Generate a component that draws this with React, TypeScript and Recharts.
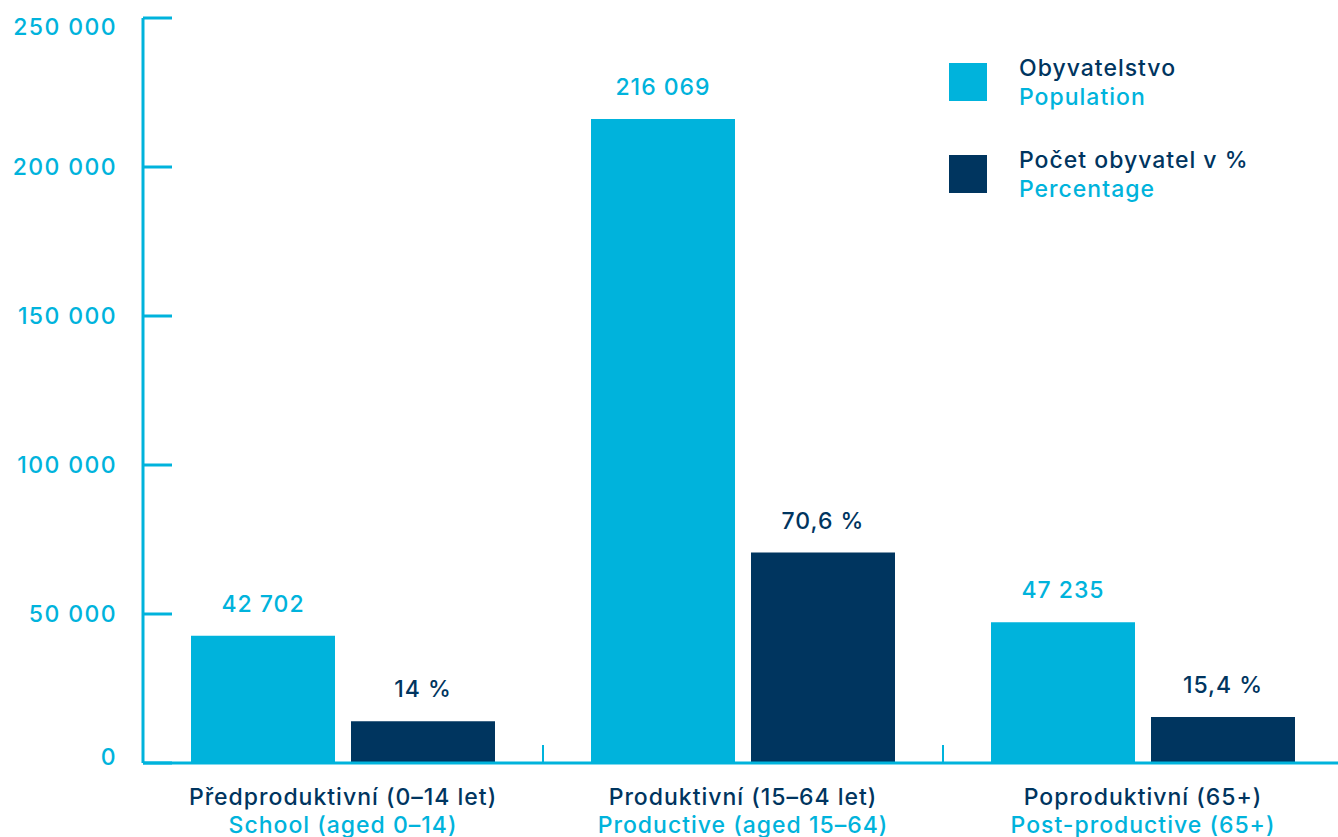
// @ts-nocheck
import React from 'react'
import { BarChart, Bar, XAxis, YAxis, Legend, LabelList } from 'recharts'

const CYAN = '#00b3dc'
const NAVY = '#00355f'
const FONT = 'Inter, "Open Sans", sans-serif'
const FS = 23
const LS = 1

const categoriesCz = ['Předproduktivní (0–14 let)', 'Produktivní (15–64 let)', 'Poproduktivní (65+)']
const categoriesEn = ['School (aged 0–14)', 'Productive (aged 15–64)', 'Post-productive (65+)']
const population = [42702, 216069, 47235]
const populationLabels = ['42 702', '216 069', '47 235']
const percentage = [14, 70.6, 15.4]
const percentageLabels = ['14 %', '70,6 %', '15,4 %']
// percent bars are drawn on the population axis: 1 % = 1 000
const PCT_SCALE = 1000
const yTicks = [0, 50000, 100000, 150000, 200000, 250000]
const seriesNames = ['Obyvatelstvo', 'Počet obyvatel v %']
const seriesSubtitles = ['Population', 'Percentage']

const data = categoriesCz.map((cz, i) => ({
  cz,
  en: categoriesEn[i],
  pop: population[i],
  popLabel: populationLabels[i],
  pct: percentage[i] * PCT_SCALE,
  pctLabel: percentageLabels[i],
}))

const fmt = (v: number) => String(v).replace(/\B(?=(\d{3})+(?!\d))/g, ' ')

const YTick = ({ x, y, payload }) => {
  const v = payload.value
  // end labels sit a bit inside the axis range
  const dy = v === 250000 ? 9 : v === 0 ? -6 : 0
  return (
    <g>
      <line x1={x} x2={x + 29} y1={y} y2={y} stroke={CYAN} strokeWidth={3} />
      <text x={x - 26} y={y + dy} dy="0.36em" textAnchor="end" fill={CYAN} fontSize={FS} fontWeight={500} fontFamily={FONT} style={{ letterSpacing: 1.4 }}>
        {fmt(v)}
      </text>
    </g>
  )
}

const XTick = ({ x, y, payload, index }) => {
  const half = payload.offset || 200
  const i = payload.index ?? index
  return (
    <g>
      {i > 0 && <line x1={x - half} x2={x - half} y1={y} y2={y - 18} stroke={CYAN} strokeWidth={2} />}
      <text x={x} y={y + 42} textAnchor="middle" fill={NAVY} fontSize={FS} fontWeight={500} fontFamily={FONT} style={{ letterSpacing: LS }}>
        {payload.value}
      </text>
      <text x={x} y={y + 70} textAnchor="middle" fill={CYAN} fontSize={FS} fontWeight={500} fontFamily={FONT} style={{ letterSpacing: LS }}>
        {categoriesEn[i]}
      </text>
    </g>
  )
}

const LegendContent = ({ payload }) => {
  const colors = [CYAN, NAVY]
  return (
    <div style={{ fontFamily: FONT, fontSize: FS, fontWeight: 500, letterSpacing: LS, lineHeight: '29px' }}>
      {seriesNames.map((n, i) => (
        <div key={n} style={{ display: 'flex', height: 92 }}>
          <div style={{ width: 38, height: 38, marginTop: 9, background: payload?.[i]?.color || colors[i] }} />
          <div style={{ marginLeft: 32 }}>
            <div style={{ color: NAVY }}>{n}</div>
            <div style={{ color: CYAN }}>{seriesSubtitles[i]}</div>
          </div>
        </div>
      ))}
    </div>
  )
}

export default function App() {
  return (
    <div style={{ position: 'absolute', left: 0, top: 0, width: 1338, height: 837, overflow: 'hidden', background: '#fff' }}>
      <BarChart
        width={1343}
        height={837}
        data={data}
        margin={{ top: 18, right: 0, bottom: 0, left: 0 }}
        barCategoryGap={48}
        barGap={16}
        style={{ fontFamily: FONT }}
      >
        <XAxis
          dataKey="cz"
          interval={0}
          height={74}
          tickSize={0}
          tickMargin={0}
          tickLine={false}
          axisLine={{ stroke: CYAN, strokeWidth: 3 }}
          tick={<XTick />}
        />
        <YAxis
          domain={[0, 250000]}
          ticks={yTicks}
          width={143}
          tickSize={0}
          tickMargin={0}
          tickLine={false}
          axisLine={{ stroke: CYAN, strokeWidth: 3 }}
          tick={<YTick />}
        />
        <Legend
          layout="vertical"
          align="center"
          verticalAlign="middle"
          content={<LegendContent />}
          wrapperStyle={{ left: 949, top: 54, width: 380, height: 184 }}
        />
        <Bar dataKey="pop" name={seriesNames[0]} fill={CYAN} barSize={144} isAnimationActive={false}>
          <LabelList dataKey="popLabel" position="top" offset={24} fill={CYAN} fontSize={FS} fontWeight={500} fontFamily={FONT} style={{ letterSpacing: LS }} />
        </Bar>
        <Bar dataKey="pct" name={seriesNames[1]} fill={NAVY} barSize={144} isAnimationActive={false}>
          <LabelList dataKey="pctLabel" position="top" offset={24} fill={NAVY} fontSize={FS} fontWeight={500} fontFamily={FONT} style={{ letterSpacing: LS }} />
        </Bar>
      </BarChart>
    </div>
  )
}
